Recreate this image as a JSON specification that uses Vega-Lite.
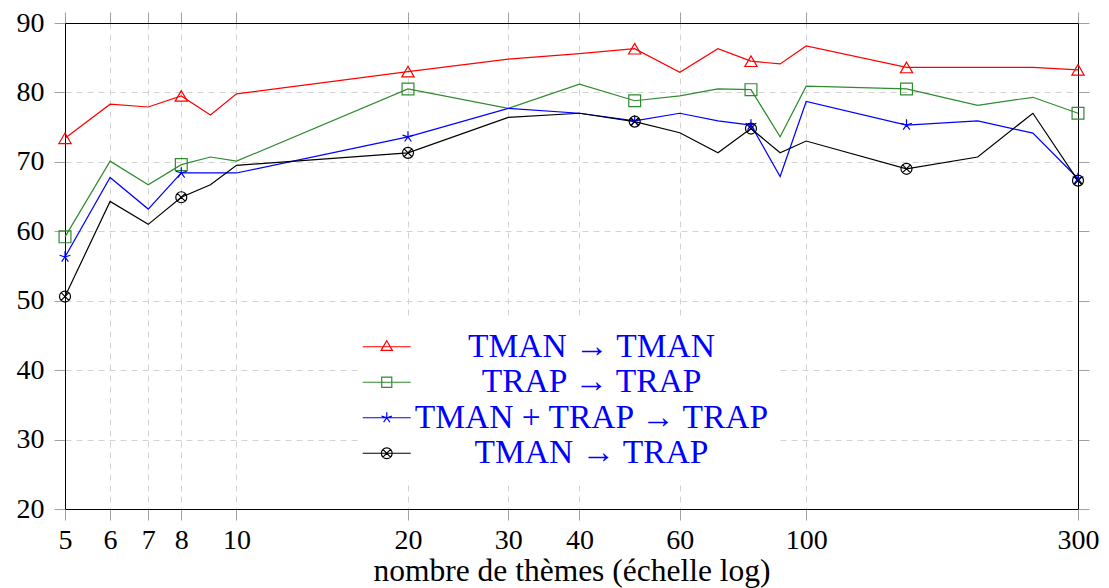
{
  "$schema": "https://vega.github.io/schema/vega-lite/v6.json",
  "width": 1013,
  "height": 486,
  "autosize": {"type": "none"},
  "padding": {"left": 65, "top": 23, "right": 31, "bottom": 79},
  "background": "white",
  "config": {
    "view": {"stroke": null},
    "font": "Liberation Serif",
    "axis": {
      "labelFont": "Liberation Serif",
      "titleFont": "Liberation Serif",
      "labelFontSize": 28,
      "titleFontSize": 31.5,
      "titleFontWeight": "normal",
      "labelColor": "black",
      "titleColor": "black",
      "domainColor": "black",
      "domainWidth": 1,
      "tickColor": "#a0a0a0",
      "tickSize": 11,
      "tickWidth": 1,
      "gridColor": "#d3d3d3",
      "gridDash": [6, 5],
      "gridWidth": 1,
      "labelOverlap": false,
      "labelFlush": false
    }
  },
  "data": {
    "values": [
      {"n": 5, "s": "TMAN → TMAN", "v": 73.4, "m": 1},
      {"n": 6, "s": "TMAN → TMAN", "v": 78.3, "m": 0},
      {"n": 7, "s": "TMAN → TMAN", "v": 77.9, "m": 0},
      {"n": 8, "s": "TMAN → TMAN", "v": 79.5, "m": 1},
      {"n": 9, "s": "TMAN → TMAN", "v": 76.75, "m": 0},
      {"n": 10, "s": "TMAN → TMAN", "v": 79.8, "m": 0},
      {"n": 20, "s": "TMAN → TMAN", "v": 83.0, "m": 1},
      {"n": 30, "s": "TMAN → TMAN", "v": 84.8, "m": 0},
      {"n": 40, "s": "TMAN → TMAN", "v": 85.6, "m": 0},
      {"n": 50, "s": "TMAN → TMAN", "v": 86.3, "m": 1},
      {"n": 60, "s": "TMAN → TMAN", "v": 82.9, "m": 0},
      {"n": 70, "s": "TMAN → TMAN", "v": 86.3, "m": 0},
      {"n": 80, "s": "TMAN → TMAN", "v": 84.5, "m": 1},
      {"n": 90, "s": "TMAN → TMAN", "v": 84.1, "m": 0},
      {"n": 100, "s": "TMAN → TMAN", "v": 86.7, "m": 0},
      {"n": 150, "s": "TMAN → TMAN", "v": 83.6, "m": 1},
      {"n": 200, "s": "TMAN → TMAN", "v": 83.6, "m": 0},
      {"n": 250, "s": "TMAN → TMAN", "v": 83.6, "m": 0},
      {"n": 300, "s": "TMAN → TMAN", "v": 83.25, "m": 1},

      {"n": 5, "s": "TRAP → TRAP", "v": 59.2, "m": 1},
      {"n": 6, "s": "TRAP → TRAP", "v": 70.1, "m": 0},
      {"n": 7, "s": "TRAP → TRAP", "v": 66.7, "m": 0},
      {"n": 8, "s": "TRAP → TRAP", "v": 69.6, "m": 1},
      {"n": 9, "s": "TRAP → TRAP", "v": 70.7, "m": 0},
      {"n": 10, "s": "TRAP → TRAP", "v": 70.1, "m": 0},
      {"n": 20, "s": "TRAP → TRAP", "v": 80.5, "m": 1},
      {"n": 30, "s": "TRAP → TRAP", "v": 77.7, "m": 0},
      {"n": 40, "s": "TRAP → TRAP", "v": 81.2, "m": 0},
      {"n": 50, "s": "TRAP → TRAP", "v": 78.8, "m": 1},
      {"n": 60, "s": "TRAP → TRAP", "v": 79.5, "m": 0},
      {"n": 70, "s": "TRAP → TRAP", "v": 80.5, "m": 0},
      {"n": 80, "s": "TRAP → TRAP", "v": 80.4, "m": 1},
      {"n": 90, "s": "TRAP → TRAP", "v": 73.6, "m": 0},
      {"n": 100, "s": "TRAP → TRAP", "v": 80.9, "m": 0},
      {"n": 150, "s": "TRAP → TRAP", "v": 80.5, "m": 1},
      {"n": 200, "s": "TRAP → TRAP", "v": 78.15, "m": 0},
      {"n": 250, "s": "TRAP → TRAP", "v": 79.3, "m": 0},
      {"n": 300, "s": "TRAP → TRAP", "v": 77.0, "m": 1},

      {"n": 5, "s": "TMAN + TRAP → TRAP", "v": 56.3, "m": 1},
      {"n": 6, "s": "TMAN + TRAP → TRAP", "v": 67.75, "m": 0},
      {"n": 7, "s": "TMAN + TRAP → TRAP", "v": 63.2, "m": 0},
      {"n": 8, "s": "TMAN + TRAP → TRAP", "v": 68.4, "m": 1},
      {"n": 9, "s": "TMAN + TRAP → TRAP", "v": 68.4, "m": 0},
      {"n": 10, "s": "TMAN + TRAP → TRAP", "v": 68.4, "m": 0},
      {"n": 20, "s": "TMAN + TRAP → TRAP", "v": 73.6, "m": 1},
      {"n": 30, "s": "TMAN + TRAP → TRAP", "v": 77.7, "m": 0},
      {"n": 40, "s": "TMAN + TRAP → TRAP", "v": 77.0, "m": 0},
      {"n": 50, "s": "TMAN + TRAP → TRAP", "v": 75.9, "m": 1},
      {"n": 60, "s": "TMAN + TRAP → TRAP", "v": 77.0, "m": 0},
      {"n": 70, "s": "TMAN + TRAP → TRAP", "v": 75.9, "m": 0},
      {"n": 80, "s": "TMAN + TRAP → TRAP", "v": 75.3, "m": 1},
      {"n": 90, "s": "TMAN + TRAP → TRAP", "v": 67.9, "m": 0},
      {"n": 100, "s": "TMAN + TRAP → TRAP", "v": 78.7, "m": 0},
      {"n": 150, "s": "TMAN + TRAP → TRAP", "v": 75.3, "m": 1},
      {"n": 200, "s": "TMAN + TRAP → TRAP", "v": 75.9, "m": 0},
      {"n": 250, "s": "TMAN + TRAP → TRAP", "v": 74.15, "m": 0},
      {"n": 300, "s": "TMAN + TRAP → TRAP", "v": 67.6, "m": 1},

      {"n": 5, "s": "TMAN → TRAP", "v": 50.6, "m": 1},
      {"n": 6, "s": "TMAN → TRAP", "v": 64.3, "m": 0},
      {"n": 7, "s": "TMAN → TRAP", "v": 61.0, "m": 0},
      {"n": 8, "s": "TMAN → TRAP", "v": 64.9, "m": 1},
      {"n": 9, "s": "TMAN → TRAP", "v": 66.7, "m": 0},
      {"n": 10, "s": "TMAN → TRAP", "v": 69.5, "m": 0},
      {"n": 20, "s": "TMAN → TRAP", "v": 71.3, "m": 1},
      {"n": 30, "s": "TMAN → TRAP", "v": 76.4, "m": 0},
      {"n": 40, "s": "TMAN → TRAP", "v": 77.0, "m": 0},
      {"n": 50, "s": "TMAN → TRAP", "v": 75.8, "m": 1},
      {"n": 60, "s": "TMAN → TRAP", "v": 74.2, "m": 0},
      {"n": 70, "s": "TMAN → TRAP", "v": 71.3, "m": 0},
      {"n": 80, "s": "TMAN → TRAP", "v": 74.8, "m": 1},
      {"n": 90, "s": "TMAN → TRAP", "v": 71.3, "m": 0},
      {"n": 100, "s": "TMAN → TRAP", "v": 73.0, "m": 0},
      {"n": 150, "s": "TMAN → TRAP", "v": 69.0, "m": 1},
      {"n": 200, "s": "TMAN → TRAP", "v": 70.7, "m": 0},
      {"n": 250, "s": "TMAN → TRAP", "v": 77.0, "m": 0},
      {"n": 300, "s": "TMAN → TRAP", "v": 67.3, "m": 1}
    ]
  },
  "resolve": {"axis": {"x": "independent", "y": "independent"}, "legend": {"color": "independent", "shape": "independent", "size": "independent"}},
  "layer": [
    {
      "mark": {"type": "line", "strokeWidth": 1.2, "clip": false},
      "encoding": {
        "x": {
          "field": "n", "type": "quantitative",
          "scale": {"type": "log", "domain": [5, 300], "nice": false},
          "axis": {
            "orient": "bottom",
            "values": [5, 6, 7, 8, 10, 20, 30, 40, 60, 100, 300],
            "title": "nombre de thèmes (échelle log)",
            "labelPadding": 6,
            "titlePadding": 1,
            "grid": true,
            "format": "d"
          }
        },
        "y": {
          "field": "v", "type": "quantitative",
          "scale": {"domain": [20, 90], "nice": false, "zero": false},
          "axis": {
            "orient": "left",
            "values": [20, 30, 40, 50, 60, 70, 80, 90],
            "title": null,
            "labelPadding": 10,
            "grid": true
          }
        },
        "color": {
          "field": "s", "type": "nominal",
          "scale": {
            "domain": ["TMAN → TMAN", "TRAP → TRAP", "TMAN + TRAP → TRAP", "TMAN → TRAP"],
            "range": ["#ff0000", "#2e8b2e", "#0000ff", "#000000"]
          },
          "legend": null
        },
        "detail": {"field": "s"}
      }
    },
    {
      "transform": [{"filter": "datum.m == 1"}],
      "mark": {"type": "point", "filled": false, "strokeWidth": 1.2, "opacity": 1, "clip": false},
      "encoding": {
        "x": {
          "field": "n", "type": "quantitative",
          "scale": {"type": "log", "domain": [5, 300], "nice": false},
          "axis": {
            "orient": "top",
            "values": [5, 6, 7, 8, 10, 20, 30, 40, 60, 100, 300],
            "labels": false,
            "title": null,
            "grid": false
          }
        },
        "y": {
          "field": "v", "type": "quantitative",
          "scale": {"domain": [20, 90], "nice": false, "zero": false},
          "axis": {
            "orient": "right",
            "values": [20, 30, 40, 50, 60, 70, 80, 90],
            "labels": false,
            "title": null,
            "grid": false
          }
        },
        "color": {
          "field": "s", "type": "nominal",
          "scale": {
            "domain": ["TMAN → TMAN", "TRAP → TRAP", "TMAN + TRAP → TRAP", "TMAN → TRAP"],
            "range": ["#ff0000", "#2e8b2e", "#0000ff", "#000000"]
          },
          "legend": null
        },
        "shape": {
          "field": "s", "type": "nominal",
          "scale": {
            "domain": ["TMAN → TMAN", "TRAP → TRAP", "TMAN + TRAP → TRAP", "TMAN → TRAP"],
            "range": [
              "triangle-up",
              "square",
              "M0,0L0,-1M0,0L0.951,-0.309M0,0L0.588,0.809M0,0L-0.588,0.809M0,0L-0.951,-0.309",
              "M-1,0A1,1,0,1,1,1,0A1,1,0,1,1,-1,0ZM-0.707,-0.707L0.707,0.707M-0.707,0.707L0.707,-0.707"
            ]
          },
          "legend": null
        },
        "size": {
          "field": "s", "type": "nominal",
          "scale": {
            "domain": ["TMAN → TMAN", "TRAP → TRAP", "TMAN + TRAP → TRAP", "TMAN → TRAP"],
            "range": [150, 121, 100, 121]
          },
          "legend": null
        }
      }
    },
    {
      "transform": [{"filter": "datum.m == 2"}],
      "mark": {"type": "point", "filled": false, "strokeWidth": 1.2, "opacity": 1},
      "encoding": {
        "x": {"field": "n", "type": "quantitative", "scale": {"type": "log", "domain": [5, 300], "nice": false}, "axis": null},
        "y": {"field": "v", "type": "quantitative", "scale": {"domain": [20, 90], "nice": false, "zero": false}, "axis": null},
        "color": {
          "field": "s", "type": "nominal",
          "scale": {
            "domain": ["TMAN → TMAN", "TRAP → TRAP", "TMAN + TRAP → TRAP", "TMAN → TRAP"],
            "range": ["#ff0000", "#2e8b2e", "#0000ff", "#000000"]
          },
          "legend": {
            "orient": "none",
            "legendX": 295,
            "legendY": 297,
            "padding": 10,
            "fillColor": "white",
            "title": null,
            "labelFont": "Liberation Serif",
            "labelFontSize": 33.5,
            "labelColor": "#0000ff",
            "labelAlign": "center",
            "labelOffset": 188,
            "labelLimit": 1000,
            "symbolSize": 576,
            "symbolStrokeWidth": 1.2,
            "rowPadding": 0.5,
            "symbolType": {"expr": "datum.index === 0 ? 'M-2,0H2M0,-0.5L0.47,0.3L-0.47,0.3Z' : datum.index === 1 ? 'M-2,0H2M-0.42,-0.42H0.42V0.42H-0.42Z' : datum.index === 2 ? 'M-2,0H2M0,0L0,-0.45M0,0L0.43,-0.14M0,0L0.26,0.36M0,0L-0.26,0.36M0,0L-0.43,-0.14' : 'M-2,0H2M-0.45,0A0.45,0.45,0,1,1,0.45,0A0.45,0.45,0,1,1,-0.45,0ZM-0.32,-0.32L0.32,0.32M-0.32,0.32L0.32,-0.32'"}
          }
        }
      }
    }
  ]
}
